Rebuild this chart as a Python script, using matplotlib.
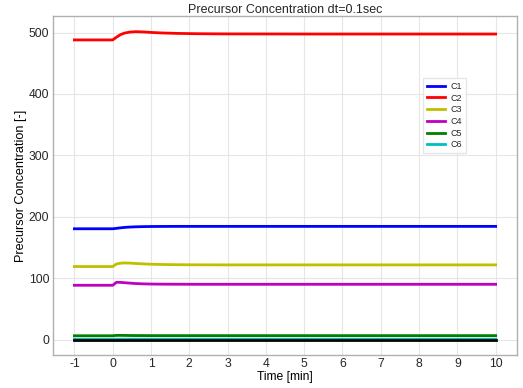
import matplotlib

matplotlib.use("Agg")

import matplotlib.pyplot as plt

plt.rcParams["font.family"] = ["Liberation Sans", "DejaVu Sans"]
plt.rcParams["text.color"] = "#262626"
plt.rcParams["xtick.color"] = "#262626"
plt.rcParams["ytick.color"] = "#262626"

# time points [min]
time = [-1, 0, 0.1, 0.2, 0.3, 0.45, 0.6, 0.8, 1.0, 1.3, 1.7, 2.2, 3, 5, 10]

c1 = [180.5, 180.5, 181.2, 182.0, 182.7, 183.3, 183.7, 184.0, 184.2, 184.3, 184.4, 184.4, 184.4, 184.4, 184.4]
c2 = [488, 488, 492.5, 496.5, 499.0, 500.8, 501.4, 501.0, 500.2, 499.3, 498.6, 498.1, 497.8, 497.6, 497.6]
c3 = [119, 119, 123.2, 124.4, 124.8, 124.6, 124.0, 123.3, 122.8, 122.3, 122.0, 121.8, 121.7, 121.7, 121.7]
c4 = [88.5, 88.5, 93.4, 93.2, 92.7, 92.0, 91.3, 90.8, 90.5, 90.3, 90.2, 90.1, 90.1, 90.1, 90.1]
c5 = [6.3, 6.3, 6.9, 6.9, 6.8, 6.7, 6.6, 6.6, 6.5, 6.5, 6.5, 6.5, 6.5, 6.5, 6.5]
c6 = [0.6, 0.6, 0.7, 0.7, 0.7, 0.7, 0.7, 0.7, 0.7, 0.7, 0.7, 0.7, 0.7, 0.7, 0.7]
baseline = [0] * len(time)

series = [("C1", c1, "b"), ("C2", c2, "r"), ("C3", c3, "y"),
          ("C4", c4, "m"), ("C5", c5, "g"), ("C6", c6, "c")]
xticks = list(range(-1, 11))

fig, ax = plt.subplots(figsize=(5.23, 3.88), dpi=100)
for name, vals, col in series:
    ax.plot(time, vals, color=col, linewidth=2.0, label=name)
ax.plot(time, baseline, color="k", linewidth=2.0)

ax.set_xticks(xticks)
ax.set_xticklabels([str(t) for t in xticks])
ax.set_title("Precursor Concentration dt=0.1sec", fontsize=9, pad=2)
ax.set_xlabel("Time [min]", fontsize=8.7, labelpad=1)
ax.set_ylabel("Precursor Concentration [-]", fontsize=9.1, labelpad=1.5)
ax.tick_params(axis="x", labelsize=8.7, length=0, pad=2)
ax.tick_params(axis="y", labelsize=8.7, length=0, pad=3)
ax.grid(True, color="#e6e6e6", linewidth=0.8)
for s in ax.spines.values():
    s.set_color("#b0b0b0")
    s.set_linewidth(1.0)
ax.legend(loc="upper right", bbox_to_anchor=(0.89, 0.817), borderaxespad=0,
          fontsize=6.5, frameon=True, fancybox=False, edgecolor="#e0e0e0",
          handlelength=2.0, handletextpad=0.6, labelspacing=0.3, borderpad=0.4)

fig.subplots_adjust(left=0.102, right=0.988, top=0.958, bottom=0.085)
fig.savefig("out.png")
